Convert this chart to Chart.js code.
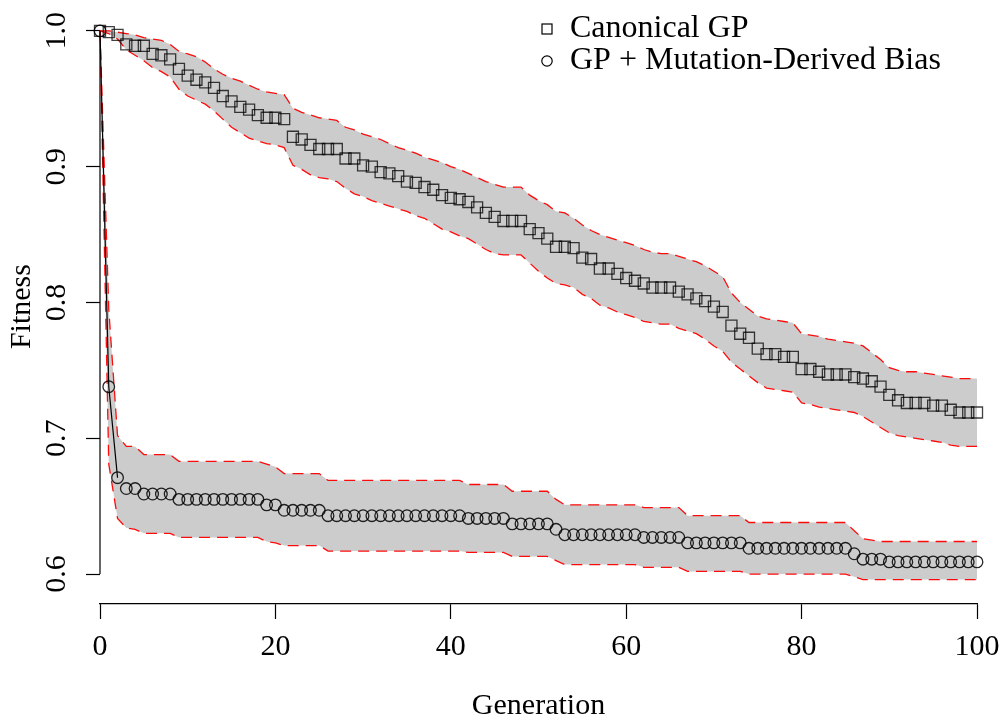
<!DOCTYPE html>
<html>
<head>
<meta charset="utf-8">
<script src="https://cdn.jsdelivr.net/npm/chart.js@4.4.1/dist/chart.umd.min.js"></script>
<style>
  html, body { margin: 0; padding: 0; background: #fff; }
  #wrap { width: 1000px; height: 718px; }
</style>
</head>
<body>
<div id="wrap"><canvas id="myChart" width="1000" height="718"></canvas></div>
<script>
var seriesNames = ['Canonical GP', 'GP + Mutation-Derived Bias'];
var xTicks = [0, 20, 40, 60, 80, 100];
var yTicks = [0.6, 0.7, 0.8, 0.9, 1.0];

var generations = [];
for (var g = 0; g <= 100; g++) generations.push(g);

// Canonical GP: mean and band edges
var canonicalMean = [
  1.000,0.999,0.997,0.990,0.989,0.989,0.983,0.982,0.979,0.972,
  0.967,0.964,0.962,0.958,0.952,0.948,0.944,0.942,0.938,0.936,
  0.936,0.935,0.922,0.920,0.916,0.913,0.913,0.913,0.906,0.906,
  0.901,0.900,0.896,0.895,0.893,0.889,0.888,0.885,0.883,0.879,
  0.877,0.876,0.874,0.870,0.866,0.863,0.860,0.860,0.860,0.854,
  0.851,0.847,0.841,0.841,0.840,0.833,0.832,0.825,0.825,0.821,
  0.818,0.816,0.814,0.811,0.811,0.811,0.808,0.806,0.803,0.801,
  0.797,0.793,0.783,0.777,0.774,0.766,0.762,0.762,0.760,0.760,
  0.751,0.751,0.749,0.747,0.747,0.747,0.745,0.744,0.742,0.738,
  0.732,0.728,0.726,0.726,0.726,0.724,0.724,0.721,0.719,0.719,
  0.719];
var canonicalUpper = [
  1.000,1.000,0.999,0.998,0.997,0.995,0.994,0.993,0.990,0.985,
  0.983,0.981,0.977,0.972,0.968,0.965,0.963,0.960,0.957,0.955,
  0.954,0.953,0.943,0.940,0.938,0.936,0.935,0.934,0.929,0.927,
  0.924,0.922,0.920,0.917,0.914,0.912,0.910,0.907,0.905,0.903,
  0.900,0.898,0.895,0.892,0.889,0.887,0.885,0.885,0.885,0.879,
  0.875,0.872,0.867,0.866,0.862,0.857,0.853,0.850,0.848,0.846,
  0.844,0.842,0.839,0.837,0.836,0.836,0.834,0.832,0.830,0.827,
  0.823,0.819,0.807,0.800,0.795,0.790,0.788,0.787,0.786,0.785,
  0.777,0.776,0.775,0.773,0.772,0.771,0.770,0.768,0.763,0.758,
  0.752,0.750,0.749,0.749,0.748,0.747,0.746,0.745,0.744,0.744,
  0.744];
var canonicalLower = [
  1.000,0.998,0.994,0.986,0.982,0.978,0.973,0.970,0.966,0.957,
  0.952,0.949,0.946,0.941,0.935,0.929,0.925,0.921,0.919,0.917,
  0.916,0.914,0.901,0.898,0.894,0.892,0.891,0.889,0.884,0.880,
  0.878,0.875,0.873,0.871,0.869,0.867,0.864,0.862,0.858,0.854,
  0.852,0.849,0.847,0.843,0.839,0.836,0.835,0.835,0.835,0.829,
  0.823,0.818,0.814,0.813,0.811,0.806,0.803,0.798,0.796,0.793,
  0.791,0.789,0.786,0.785,0.784,0.784,0.781,0.779,0.777,0.773,
  0.768,0.764,0.756,0.751,0.746,0.741,0.737,0.736,0.735,0.734,
  0.726,0.725,0.723,0.722,0.721,0.720,0.719,0.716,0.712,0.708,
  0.704,0.702,0.701,0.700,0.699,0.698,0.697,0.695,0.694,0.694,
  0.694];

// GP + Mutation-Derived Bias: mean and band edges
var biasMean = [
  1.000,0.738,0.671,0.663,0.663,0.659,0.659,0.659,0.659,0.655,
  0.655,0.655,0.655,0.655,0.655,0.655,0.655,0.655,0.655,0.651,
  0.651,0.647,0.647,0.647,0.647,0.647,0.643,0.643,0.643,0.643,
  0.643,0.643,0.643,0.643,0.643,0.643,0.643,0.643,0.643,0.643,
  0.643,0.643,0.641,0.641,0.641,0.641,0.641,0.637,0.637,0.637,
  0.637,0.637,0.633,0.629,0.629,0.629,0.629,0.629,0.629,0.629,
  0.629,0.629,0.627,0.627,0.627,0.627,0.627,0.623,0.623,0.623,
  0.623,0.623,0.623,0.623,0.619,0.619,0.619,0.619,0.619,0.619,
  0.619,0.619,0.619,0.619,0.619,0.619,0.615,0.611,0.611,0.611,
  0.609,0.609,0.609,0.609,0.609,0.609,0.609,0.609,0.609,0.609,
  0.609];
var biasUpper = [
  1.000,0.795,0.702,0.694,0.694,0.688,0.688,0.688,0.688,0.683,
  0.683,0.683,0.683,0.683,0.683,0.683,0.683,0.683,0.683,0.681,
  0.679,0.674,0.674,0.674,0.674,0.674,0.669,0.669,0.669,0.669,
  0.669,0.669,0.669,0.669,0.669,0.669,0.669,0.669,0.669,0.669,
  0.669,0.669,0.666,0.666,0.666,0.666,0.666,0.661,0.661,0.661,
  0.661,0.661,0.655,0.651,0.651,0.651,0.651,0.651,0.651,0.651,
  0.651,0.651,0.649,0.649,0.649,0.649,0.649,0.643,0.643,0.643,
  0.643,0.643,0.643,0.643,0.638,0.638,0.638,0.638,0.638,0.638,
  0.638,0.638,0.638,0.638,0.638,0.638,0.632,0.626,0.625,0.624,
  0.624,0.624,0.624,0.624,0.624,0.624,0.624,0.624,0.624,0.624,
  0.624];
var biasLower = [
  1.000,0.681,0.641,0.634,0.633,0.630,0.630,0.630,0.630,0.627,
  0.627,0.627,0.627,0.627,0.627,0.627,0.627,0.627,0.627,0.624,
  0.623,0.621,0.621,0.621,0.621,0.621,0.617,0.617,0.617,0.617,
  0.617,0.617,0.617,0.617,0.617,0.617,0.617,0.617,0.617,0.617,
  0.617,0.617,0.616,0.616,0.616,0.616,0.616,0.613,0.613,0.613,
  0.613,0.613,0.610,0.607,0.607,0.607,0.607,0.607,0.607,0.607,
  0.607,0.607,0.605,0.605,0.605,0.605,0.605,0.602,0.602,0.602,
  0.602,0.602,0.602,0.602,0.600,0.600,0.600,0.600,0.600,0.600,
  0.600,0.600,0.600,0.600,0.600,0.600,0.598,0.596,0.596,0.596,
  0.596,0.596,0.596,0.596,0.596,0.596,0.596,0.596,0.596,0.596,
  0.596];

function pts(arr){
  return arr.map(function(v, i){ return {x: generations[i], y: v}; });
}

var FONT = "'Liberation Serif', 'DejaVu Serif', serif";
Chart.defaults.font.family = FONT;
Chart.defaults.font.size = 30;
Chart.defaults.color = '#000';

function band(data, fill){
  return {
    data: pts(data),
    fill: fill,
    backgroundColor: '#cccccc',
    borderColor: 'rgba(255, 0, 0, 0.95)',
    borderWidth: 1.3,
    borderDash: [11, 7],
    pointRadius: 0,
    clip: false
  };
}

// R style y axis: line only between first and last tick
var yAxisLine = {
  id: 'yAxisLine',
  beforeDatasetsDraw: function(chart){
    var ctx = chart.ctx, y = chart.scales.y;
    var x0 = chart.chartArea.left;
    ctx.save();
    ctx.strokeStyle = '#000';
    ctx.lineWidth = 1.2;
    ctx.beginPath();
    ctx.moveTo(x0, y.getPixelForValue(yTicks[yTicks.length - 1]));
    ctx.lineTo(x0, y.getPixelForValue(yTicks[0]));
    ctx.stroke();
    ctx.restore();
  }
};

var cornerLegend = {
  id: 'cornerLegend',
  afterDraw: function(chart){
    var ctx = chart.ctx;
    var sx = 547, tx = 570, rows = [29, 61];
    ctx.save();
    ctx.strokeStyle = '#000';
    ctx.lineWidth = 1.2;
    ctx.strokeRect(sx - 5, rows[0] - 5, 10, 10);
    ctx.beginPath();
    ctx.arc(sx, rows[1], 5.2, 0, Math.PI * 2);
    ctx.stroke();
    ctx.fillStyle = '#000';
    ctx.font = '32px ' + FONT;
    ctx.textBaseline = 'middle';
    ctx.textAlign = 'left';
    ctx.fillText(seriesNames[0], tx, rows[0]);
    ctx.fillText(seriesNames[1], tx, rows[1]);
    ctx.restore();
  }
};

var ctx = document.getElementById('myChart').getContext('2d');
var myChart = new Chart(ctx, {
  type: 'line',
  data: {
    datasets: [
      {
        label: seriesNames[0],
        data: pts(canonicalMean),
        showLine: false,
        pointStyle: 'rect',
        pointRadius: 7.8,
        pointBorderWidth: 1.3,
        pointBorderColor: 'rgba(0, 0, 0, 0.75)',
        pointBackgroundColor: 'rgba(0, 0, 0, 0)',
        clip: false
      },
      {
        label: seriesNames[1],
        data: pts(biasMean),
        borderColor: '#000',
        borderWidth: 1.2,
        segment: {
          borderColor: function(c){ return c.p0DataIndex < 2 ? '#000' : 'rgba(0,0,0,0)'; }
        },
        pointStyle: 'circle',
        pointRadius: 5.8,
        pointBorderWidth: 1.3,
        pointBorderColor: 'rgba(0, 0, 0, 0.85)',
        pointBackgroundColor: 'rgba(0, 0, 0, 0)',
        clip: false
      },
      band(canonicalUpper, '+1'),
      band(canonicalLower, false),
      band(biasUpper, '+1'),
      band(biasLower, false)
    ]
  },
  options: {
    responsive: false,
    animation: false,
    devicePixelRatio: 1,
    events: [],
    layout: { padding: { left: 0, right: 23, top: 5, bottom: 0 } },
    elements: { line: { tension: 0 } },
    plugins: {
      legend: { display: false },
      tooltip: { enabled: false },
      filler: { drawTime: 'beforeDatasetsDraw' }
    },
    scales: {
      x: {
        type: 'linear',
        min: 0,
        max: 100,
        afterBuildTicks: function(s){ s.ticks = xTicks.map(function(v){ return {value: v}; }); },
        afterFit: function(s){ s.height = 114; s.paddingLeft = 0; s.paddingRight = 0; },
        grid: { drawOnChartArea: false, drawTicks: true, tickLength: 15, tickColor: '#000', tickWidth: 1.2 },
        border: { display: true, color: '#000', width: 1.2 },
        ticks: { padding: 10, maxRotation: 0, font: { size: 30 }, callback: function(v){ return String(v); } },
        title: { display: true, text: 'Generation', font: { size: 30, lineHeight: 1 }, padding: { top: 0, bottom: -3 } }
      },
      y: {
        type: 'linear',
        min: 0.578,
        max: 1.016,
        afterBuildTicks: function(s){ s.ticks = yTicks.map(function(v){ return {value: v}; }); },
        afterFit: function(s){ s.width = 100; s.paddingTop = 0; s.paddingBottom = 0; },
        grid: { drawOnChartArea: false, drawTicks: true, tickLength: 14, tickColor: '#000', tickWidth: 1.2 },
        border: { display: false },
        ticks: { padding: 10, minRotation: 90, maxRotation: 90, crossAlign: 'center', font: { size: 30 },
                 callback: function(v){ return v.toFixed(1); } },
        title: { display: true, text: 'Fitness', font: { size: 30, lineHeight: 1 }, padding: { top: 7, bottom: 0 } }
      }
    }
  },
  plugins: [yAxisLine, cornerLegend]
});
</script>
</body>
</html>
